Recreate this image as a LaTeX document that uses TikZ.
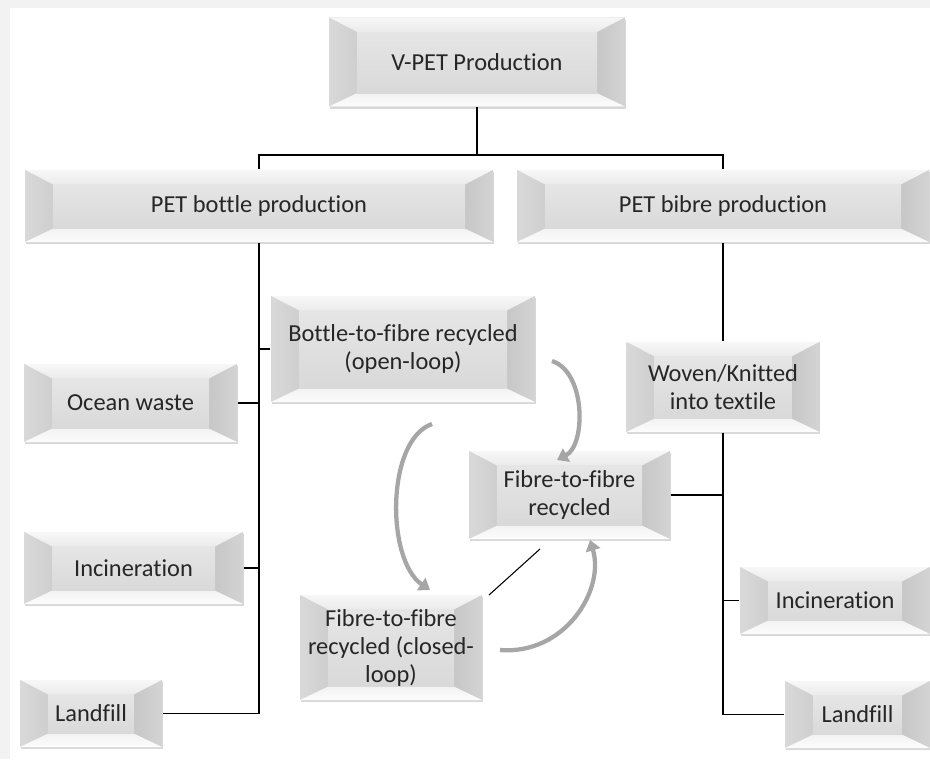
\documentclass[tikz,border=0pt]{standalone}
\usepackage{fontspec}
\setmainfont{Carlito}[Ligatures=NoCommon]
\usetikzlibrary{shadows,calc,arrows.meta}

\begin{document}
\begin{tikzpicture}[x=0.75pt, y=-0.75pt, line width=1pt,
  bevel/.style={rectangle, inner sep=0pt, align=center, text=black!85,
    font=\fontsize{18.3}{21}\selectfont, fill=black!14,
    drop shadow={shadow xshift=0.6pt, shadow yshift=-1.8pt, opacity=0.3},
    path picture={
      \coordinate (pnw) at (path picture bounding box.north west);
      \coordinate (pse) at (path picture bounding box.south east);
      \coordinate (inw) at ($(pnw)+(21pt,-11pt)$);
      \coordinate (ise) at ($(pse)+(-21pt,10pt)$);
      \shade[top color=black!3, bottom color=black!8] (pnw) -- (pnw -| pse) -- (inw -| ise) -- (inw) -- cycle;
      \shade[left color=black!15, right color=black!19] (pnw) -- (inw) -- (inw |- ise) -- (pnw |- pse) -- cycle;
      \shade[left color=black!22, right color=black!17] (pnw -| pse) -- (inw -| ise) -- (ise) -- (pse) -- cycle;
      \shade[top color=black!5, bottom color=black!1] (pnw |- pse) -- (inw |- ise) -- (ise) -- (pse) -- cycle;
      \shade[top color=black!10, bottom color=black!15] (inw) rectangle (ise);
    }},
  curvy/.style={line width=3.2pt, black!35, -{Triangle[width=11pt,length=8pt]}}]

  \useasboundingbox (0,0) rectangle (930,759);
  \fill[black!5] (0,0) rectangle (930,759);
  \fill[white] (10,8) rectangle (930,759);

  \node[bevel, minimum width=222pt, minimum height=66.75pt] (vpet) at (477,62) {V-PET Production};
  \node[bevel, minimum width=351pt, minimum height=54pt] (bottle) at (259,206) {PET bottle production};
  \node[bevel, minimum width=309pt, minimum height=54pt] (fibre) at (723,206) {PET bibre production};
  \node[bevel, minimum width=198pt, minimum height=79.5pt] (b2f) at (403,349) {Bottle-to-fibre recycled\\(open-loop)};
  \node[bevel, minimum width=159.75pt, minimum height=58.5pt] (ocean) at (130.5,403) {Ocean waste};
  \node[bevel, minimum width=164.25pt, minimum height=54pt] (incL) at (133.5,568) {Incineration};
  \node[bevel, minimum width=106.5pt, minimum height=50.25pt] (landL) at (91,713.5) {Landfill};
  \node[bevel, minimum width=144.75pt, minimum height=67.5pt] (woven) at (723,387) {Woven/Knitted\\into textile};
  \node[bevel, minimum width=150.75pt, minimum height=66pt] (f2f) at (569.5,495) {Fibre-to-fibre\\recycled};
  \node[bevel, minimum width=142.5pt, minimum height=50.25pt] (incR) at (835,600.5) {Incineration};
  \node[bevel, minimum width=108.75pt, minimum height=50.25pt] (landR) at (857.5,714.5) {Landfill};
  \node[bevel, minimum width=136.5pt, minimum height=78.75pt] (closed) at (391,647.5) {Fibre-to-fibre\\recycled (closed-\\loop)};

  \coordinate (split) at (477,155);
  \draw (vpet.south) -- (split);
  \draw (bottle.north) |- (split) -| (fibre.north);

  \draw (bottle.south) |- (landL.east);
  \draw (ocean.east) -- (ocean.east -| bottle.south);
  \draw (incL.east) -- (incL.east -| bottle.south);
  \draw (b2f.west) -- (b2f.west -| bottle.south);

  \draw (fibre.south) -- (woven.north);
  \draw (woven.south) |- (landR.west);
  \draw (f2f.east) -- (f2f.east -| woven.south);
  \draw (incR.west) -- (incR.west -| woven.south);

  \coordinate (d1) at (540,549);
  \coordinate (d2) at (489,595);
  \draw[line width=0.8pt] (d1) -- (d2);

  \coordinate (a1) at (552,361);
  \coordinate (a2) at (557,460);
  \coordinate (b1) at (432,424);
  \coordinate (b2) at (430,590);
  \coordinate (c1) at (500,650);
  \coordinate (c2) at (590,540);
  \draw[curvy] (a1) .. controls (586,372) and (586,445) .. (a2);
  \draw[curvy] (b1) .. controls (386,440) and (386,560) .. (b2);
  \draw[curvy] (c1) .. controls (565,655) and (605,590) .. (c2);
\end{tikzpicture}
\end{document}
